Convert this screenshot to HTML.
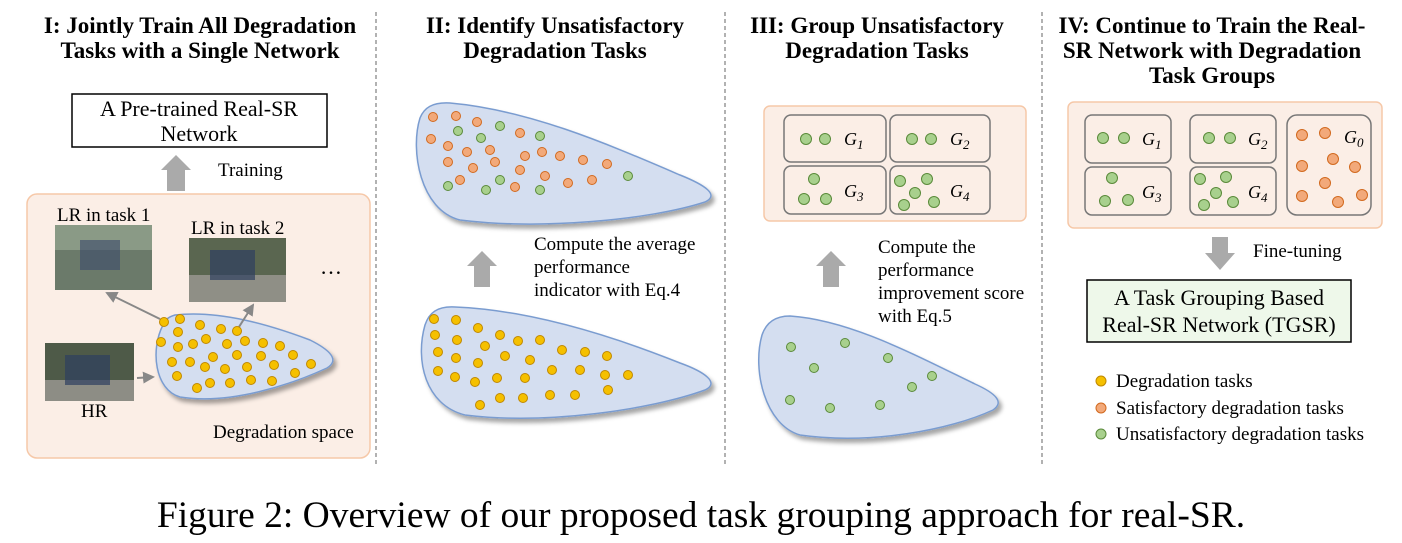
<!DOCTYPE html>
<html><head><style>
body{margin:0;background:#fff;}
svg text{font-family:"Liberation Serif",serif;}
</style></head><body>
<svg width="1402" height="538" xmlns="http://www.w3.org/2000/svg">
<defs>
<filter id="sh" x="-10%" y="-10%" width="130%" height="140%"><feDropShadow dx="3" dy="4" stdDeviation="2" flood-color="#000" flood-opacity="0.35"/></filter>
<marker id="ah" markerWidth="6" markerHeight="6" refX="5" refY="3" orient="auto"><path d="M0,0 L6,3 L0,6z" fill="#888"/></marker>
</defs>
<!-- titles -->
<g font-weight="bold" font-size="23" text-anchor="middle" fill="#000">
<text x="200" y="33">I: Jointly Train All Degradation</text>
<text x="200" y="58">Tasks with a Single Network</text>
<text x="555" y="33">II: Identify Unsatisfactory</text>
<text x="555" y="58">Degradation Tasks</text>
<text x="877" y="33">III: Group Unsatisfactory</text>
<text x="877" y="58">Degradation Tasks</text>
<text x="1212" y="33">IV: Continue to Train the Real-</text>
<text x="1212" y="58">SR Network with Degradation</text>
<text x="1212" y="83">Task Groups</text>
</g>
<!-- dashed separators -->
<g stroke="#888" stroke-dasharray="4,3" stroke-width="1.3">
<line x1="376" y1="12" x2="376" y2="465"/><line x1="725" y1="12" x2="725" y2="465"/><line x1="1042" y1="12" x2="1042" y2="465"/>
</g>
<!-- Panel I -->
<rect x="72" y="94" width="255" height="53" fill="#fff" stroke="#000" stroke-width="1.5"/>
<text x="199" y="116" font-size="22" text-anchor="middle">A Pre-trained Real-SR</text>
<text x="199" y="141" font-size="22" text-anchor="middle">Network</text>
<path d="M167,191 V170 H161 L176,155 L191,170 H185 V191z" fill="#aaa"/>
<text x="218" y="176" font-size="19">Training</text>
<rect x="27" y="194" width="343" height="264" rx="10" fill="#fbeee6" stroke="#f6c8a8" stroke-width="1.5"/>
<text x="57" y="221" font-size="19">LR in task 1</text>
<text x="191" y="234" font-size="19">LR in task 2</text>
<rect x="55" y="225" width="97" height="65" fill="#6b7a6a"/>
<rect x="55" y="225" width="97" height="25" fill="#8a9a86"/>
<rect x="80" y="240" width="40" height="30" fill="#3a4a6a" opacity="0.6"/>
<rect x="189" y="238" width="97" height="64" fill="#5a6650"/>
<rect x="189" y="275" width="97" height="27" fill="#8f8f86"/>
<rect x="210" y="250" width="45" height="30" fill="#2e3e60" opacity="0.7"/>
<rect x="45" y="343" width="89" height="58" fill="#4e5a48"/>
<rect x="45" y="380" width="89" height="21" fill="#8d8d85"/>
<rect x="65" y="355" width="45" height="30" fill="#2e3e60" opacity="0.7"/>
<text x="320" y="274" font-size="22">…</text>
<text x="81" y="417" font-size="19">HR</text>
<text x="213" y="438" font-size="19">Degradation space</text>
<path d="M163,325 C150,350 155,390 180,397 C230,405 290,385 327,368 C340,360 330,350 310,340 C270,325 220,310 175,315 C168,317 165,320 163,325z" fill="#d4def0" stroke="#7a9cd0" stroke-width="1.5" filter="url(#sh)"/>
<line x1="160" y1="319" x2="107" y2="293" stroke="#888" stroke-width="2" marker-end="url(#ah)"/>
<line x1="237" y1="330" x2="253" y2="305" stroke="#888" stroke-width="2" marker-end="url(#ah)"/>
<line x1="137" y1="378" x2="153" y2="377" stroke="#888" stroke-width="2" marker-end="url(#ah)"/>
<g fill="#f5c000" stroke="#c08800" stroke-width="1">
<circle cx="164" cy="322" r="4.5"/><circle cx="180" cy="319" r="4.5"/><circle cx="200" cy="325" r="4.5"/><circle cx="221" cy="329" r="4.5"/><circle cx="237" cy="331" r="4.5"/>
<circle cx="178" cy="332" r="4.5"/><circle cx="161" cy="342" r="4.5"/><circle cx="178" cy="347" r="4.5"/><circle cx="193" cy="344" r="4.5"/><circle cx="206" cy="339" r="4.5"/><circle cx="227" cy="344" r="4.5"/><circle cx="245" cy="341" r="4.5"/><circle cx="263" cy="343" r="4.5"/><circle cx="280" cy="346" r="4.5"/>
<circle cx="172" cy="362" r="4.5"/><circle cx="190" cy="362" r="4.5"/><circle cx="213" cy="357" r="4.5"/><circle cx="237" cy="355" r="4.5"/><circle cx="261" cy="356" r="4.5"/><circle cx="293" cy="355" r="4.5"/><circle cx="311" cy="364" r="4.5"/>
<circle cx="205" cy="367" r="4.5"/><circle cx="225" cy="369" r="4.5"/><circle cx="247" cy="367" r="4.5"/><circle cx="274" cy="365" r="4.5"/>
<circle cx="177" cy="376" r="4.5"/><circle cx="197" cy="388" r="4.5"/><circle cx="210" cy="383" r="4.5"/><circle cx="230" cy="383" r="4.5"/><circle cx="251" cy="380" r="4.5"/><circle cx="272" cy="381" r="4.5"/><circle cx="295" cy="373" r="4.5"/>
</g>
<!-- Panel II -->
<path d="M420,118 C410,150 420,210 460,220 C540,230 650,220 705,202 C720,195 705,185 680,175 C610,145 530,110 450,103 C432,102 424,108 420,118z" fill="#d4def0" stroke="#7a9cd0" stroke-width="1.5" filter="url(#sh)"/>
<g stroke-width="1">
<g fill="#f2a97a" stroke="#d2691e">
<circle cx="433" cy="117" r="4.5"/><circle cx="456" cy="116" r="4.5"/><circle cx="477" cy="122" r="4.5"/><circle cx="520" cy="133" r="4.5"/><circle cx="431" cy="139" r="4.5"/><circle cx="448" cy="146" r="4.5"/><circle cx="467" cy="152" r="4.5"/><circle cx="490" cy="150" r="4.5"/><circle cx="525" cy="156" r="4.5"/><circle cx="560" cy="156" r="4.5"/><circle cx="448" cy="162" r="4.5"/><circle cx="473" cy="168" r="4.5"/><circle cx="495" cy="162" r="4.5"/><circle cx="520" cy="170" r="4.5"/><circle cx="583" cy="160" r="4.5"/><circle cx="607" cy="164" r="4.5"/><circle cx="545" cy="176" r="4.5"/><circle cx="515" cy="187" r="4.5"/><circle cx="568" cy="183" r="4.5"/><circle cx="592" cy="180" r="4.5"/><circle cx="460" cy="180" r="4.5"/><circle cx="542" cy="152" r="4.5"/>
</g>
<g fill="#a8d08d" stroke="#5a8a3a">
<circle cx="458" cy="131" r="4.5"/><circle cx="481" cy="138" r="4.5"/><circle cx="500" cy="126" r="4.5"/><circle cx="540" cy="136" r="4.5"/><circle cx="500" cy="180" r="4.5"/><circle cx="486" cy="190" r="4.5"/><circle cx="540" cy="190" r="4.5"/><circle cx="628" cy="176" r="4.5"/><circle cx="448" cy="186" r="4.5"/>
</g>
</g>
<path d="M474,287 V266 H467 L482,251 L497,266 H490 V287z" fill="#aaa"/>
<text x="534" y="250" font-size="19">Compute the average</text>
<text x="534" y="273" font-size="19">performance</text>
<text x="534" y="296" font-size="19">indicator with Eq.4</text>
<path d="M425,325 C415,360 425,405 465,415 C545,425 650,410 705,390 C720,383 705,372 680,363 C610,335 530,310 455,307 C437,306 429,313 425,325z" fill="#d4def0" stroke="#7a9cd0" stroke-width="1.5" filter="url(#sh)"/>
<g fill="#f5c000" stroke="#c08800" stroke-width="1">
<circle cx="434" cy="319" r="4.5"/><circle cx="456" cy="320" r="4.5"/><circle cx="478" cy="328" r="4.5"/><circle cx="435" cy="335" r="4.5"/><circle cx="457" cy="340" r="4.5"/><circle cx="485" cy="346" r="4.5"/><circle cx="500" cy="335" r="4.5"/><circle cx="518" cy="341" r="4.5"/><circle cx="540" cy="340" r="4.5"/><circle cx="438" cy="352" r="4.5"/><circle cx="456" cy="358" r="4.5"/><circle cx="478" cy="363" r="4.5"/><circle cx="505" cy="356" r="4.5"/><circle cx="530" cy="360" r="4.5"/><circle cx="562" cy="350" r="4.5"/><circle cx="585" cy="352" r="4.5"/><circle cx="607" cy="356" r="4.5"/><circle cx="438" cy="371" r="4.5"/><circle cx="455" cy="377" r="4.5"/><circle cx="475" cy="382" r="4.5"/><circle cx="497" cy="378" r="4.5"/><circle cx="525" cy="378" r="4.5"/><circle cx="552" cy="370" r="4.5"/><circle cx="580" cy="370" r="4.5"/><circle cx="605" cy="375" r="4.5"/><circle cx="628" cy="375" r="4.5"/><circle cx="480" cy="405" r="4.5"/><circle cx="500" cy="398" r="4.5"/><circle cx="523" cy="398" r="4.5"/><circle cx="550" cy="395" r="4.5"/><circle cx="575" cy="395" r="4.5"/><circle cx="608" cy="390" r="4.5"/>
</g>
<!-- Panel III -->
<rect x="764" y="106" width="262" height="115" rx="6" fill="#fbeee6" stroke="#f6c8a8" stroke-width="1.5"/>
<g fill="none" stroke="#777" stroke-width="1.5">
<rect x="784" y="115" width="102" height="47" rx="7"/><rect x="890" y="115" width="100" height="47" rx="7"/>
<rect x="784" y="166" width="102" height="48" rx="7"/><rect x="890" y="166" width="100" height="48" rx="7"/>
</g>
<g font-style="italic" font-size="18"><text x="844" y="145">G<tspan font-size="13" dy="4">1</tspan></text><text x="950" y="145">G<tspan font-size="13" dy="4">2</tspan></text><text x="844" y="197">G<tspan font-size="13" dy="4">3</tspan></text><text x="950" y="197">G<tspan font-size="13" dy="4">4</tspan></text></g>
<g fill="#a8d08d" stroke="#5a8a3a" stroke-width="1">
<circle cx="806" cy="139" r="5.5"/><circle cx="825" cy="139" r="5.5"/><circle cx="912" cy="139" r="5.5"/><circle cx="931" cy="139" r="5.5"/>
<circle cx="814" cy="179" r="5.5"/><circle cx="804" cy="199" r="5.5"/><circle cx="826" cy="199" r="5.5"/>
<circle cx="900" cy="181" r="5.5"/><circle cx="927" cy="179" r="5.5"/><circle cx="915" cy="193" r="5.5"/><circle cx="904" cy="205" r="5.5"/><circle cx="934" cy="202" r="5.5"/>
</g>
<path d="M823,287 V266 H816 L831,251 L846,266 H839 V287z" fill="#aaa"/>
<text x="878" y="253" font-size="19">Compute the</text>
<text x="878" y="276" font-size="19">performance</text>
<text x="878" y="299" font-size="19">improvement score</text>
<text x="878" y="322" font-size="19">with Eq.5</text>
<path d="M762,335 C752,370 765,425 800,435 C870,445 950,430 993,410 C1005,402 995,393 975,384 C915,355 850,320 790,316 C775,316 766,323 762,335z" fill="#d4def0" stroke="#7a9cd0" stroke-width="1.5" filter="url(#sh)"/>
<g fill="#a8d08d" stroke="#5a8a3a" stroke-width="1">
<circle cx="791" cy="347" r="4.5"/><circle cx="845" cy="343" r="4.5"/><circle cx="814" cy="368" r="4.5"/><circle cx="888" cy="358" r="4.5"/><circle cx="932" cy="376" r="4.5"/><circle cx="912" cy="387" r="4.5"/><circle cx="790" cy="400" r="4.5"/><circle cx="830" cy="408" r="4.5"/><circle cx="880" cy="405" r="4.5"/>
</g>
<!-- Panel IV -->
<rect x="1068" y="102" width="314" height="126" rx="6" fill="#fbeee6" stroke="#f6c8a8" stroke-width="1.5"/>
<g fill="none" stroke="#777" stroke-width="1.5">
<rect x="1085" y="115" width="86" height="48" rx="7"/><rect x="1190" y="115" width="86" height="48" rx="7"/>
<rect x="1085" y="167" width="86" height="48" rx="7"/><rect x="1190" y="167" width="86" height="48" rx="7"/>
<rect x="1287" y="115" width="84" height="100" rx="10"/>
</g>
<g font-style="italic" font-size="18"><text x="1142" y="145">G<tspan font-size="13" dy="4">1</tspan></text><text x="1248" y="145">G<tspan font-size="13" dy="4">2</tspan></text><text x="1142" y="198">G<tspan font-size="13" dy="4">3</tspan></text><text x="1248" y="198">G<tspan font-size="13" dy="4">4</tspan></text><text x="1344" y="143">G<tspan font-size="13" dy="4">0</tspan></text></g>
<g fill="#a8d08d" stroke="#5a8a3a" stroke-width="1">
<circle cx="1103" cy="138" r="5.5"/><circle cx="1124" cy="138" r="5.5"/><circle cx="1209" cy="138" r="5.5"/><circle cx="1230" cy="138" r="5.5"/>
<circle cx="1112" cy="178" r="5.5"/><circle cx="1105" cy="201" r="5.5"/><circle cx="1128" cy="200" r="5.5"/>
<circle cx="1200" cy="179" r="5.5"/><circle cx="1226" cy="177" r="5.5"/><circle cx="1216" cy="193" r="5.5"/><circle cx="1204" cy="205" r="5.5"/><circle cx="1233" cy="202" r="5.5"/>
</g>
<g fill="#f2a97a" stroke="#d2691e" stroke-width="1">
<circle cx="1302" cy="135" r="5.5"/><circle cx="1325" cy="133" r="5.5"/><circle cx="1333" cy="159" r="5.5"/><circle cx="1302" cy="166" r="5.5"/><circle cx="1355" cy="167" r="5.5"/><circle cx="1325" cy="183" r="5.5"/><circle cx="1302" cy="196" r="5.5"/><circle cx="1338" cy="202" r="5.5"/><circle cx="1362" cy="195" r="5.5"/>
</g>
<path d="M1212,237 V253 H1205 L1220,270 L1235,253 H1228 V237z" fill="#aaa"/>
<text x="1253" y="257" font-size="19">Fine-tuning</text>
<rect x="1087" y="280" width="264" height="62" fill="#eef8ea" stroke="#000" stroke-width="1.5"/>
<text x="1219" y="305" font-size="22" text-anchor="middle">A Task Grouping Based</text>
<text x="1219" y="332" font-size="22" text-anchor="middle">Real-SR Network (TGSR)</text>
<circle cx="1101" cy="381" r="5" fill="#f5c000" stroke="#c08800"/>
<text x="1116" y="387" font-size="19">Degradation tasks</text>
<circle cx="1101" cy="408" r="5" fill="#f2a97a" stroke="#d2691e"/>
<text x="1116" y="414" font-size="19">Satisfactory degradation tasks</text>
<circle cx="1101" cy="434" r="5" fill="#a8d08d" stroke="#5a8a3a"/>
<text x="1116" y="440" font-size="19">Unsatisfactory degradation tasks</text>
<!-- caption -->
<text x="701" y="527" font-size="37.5" text-anchor="middle">Figure 2: Overview of our proposed task grouping approach for real-SR.</text>
</svg>
</body></html>
